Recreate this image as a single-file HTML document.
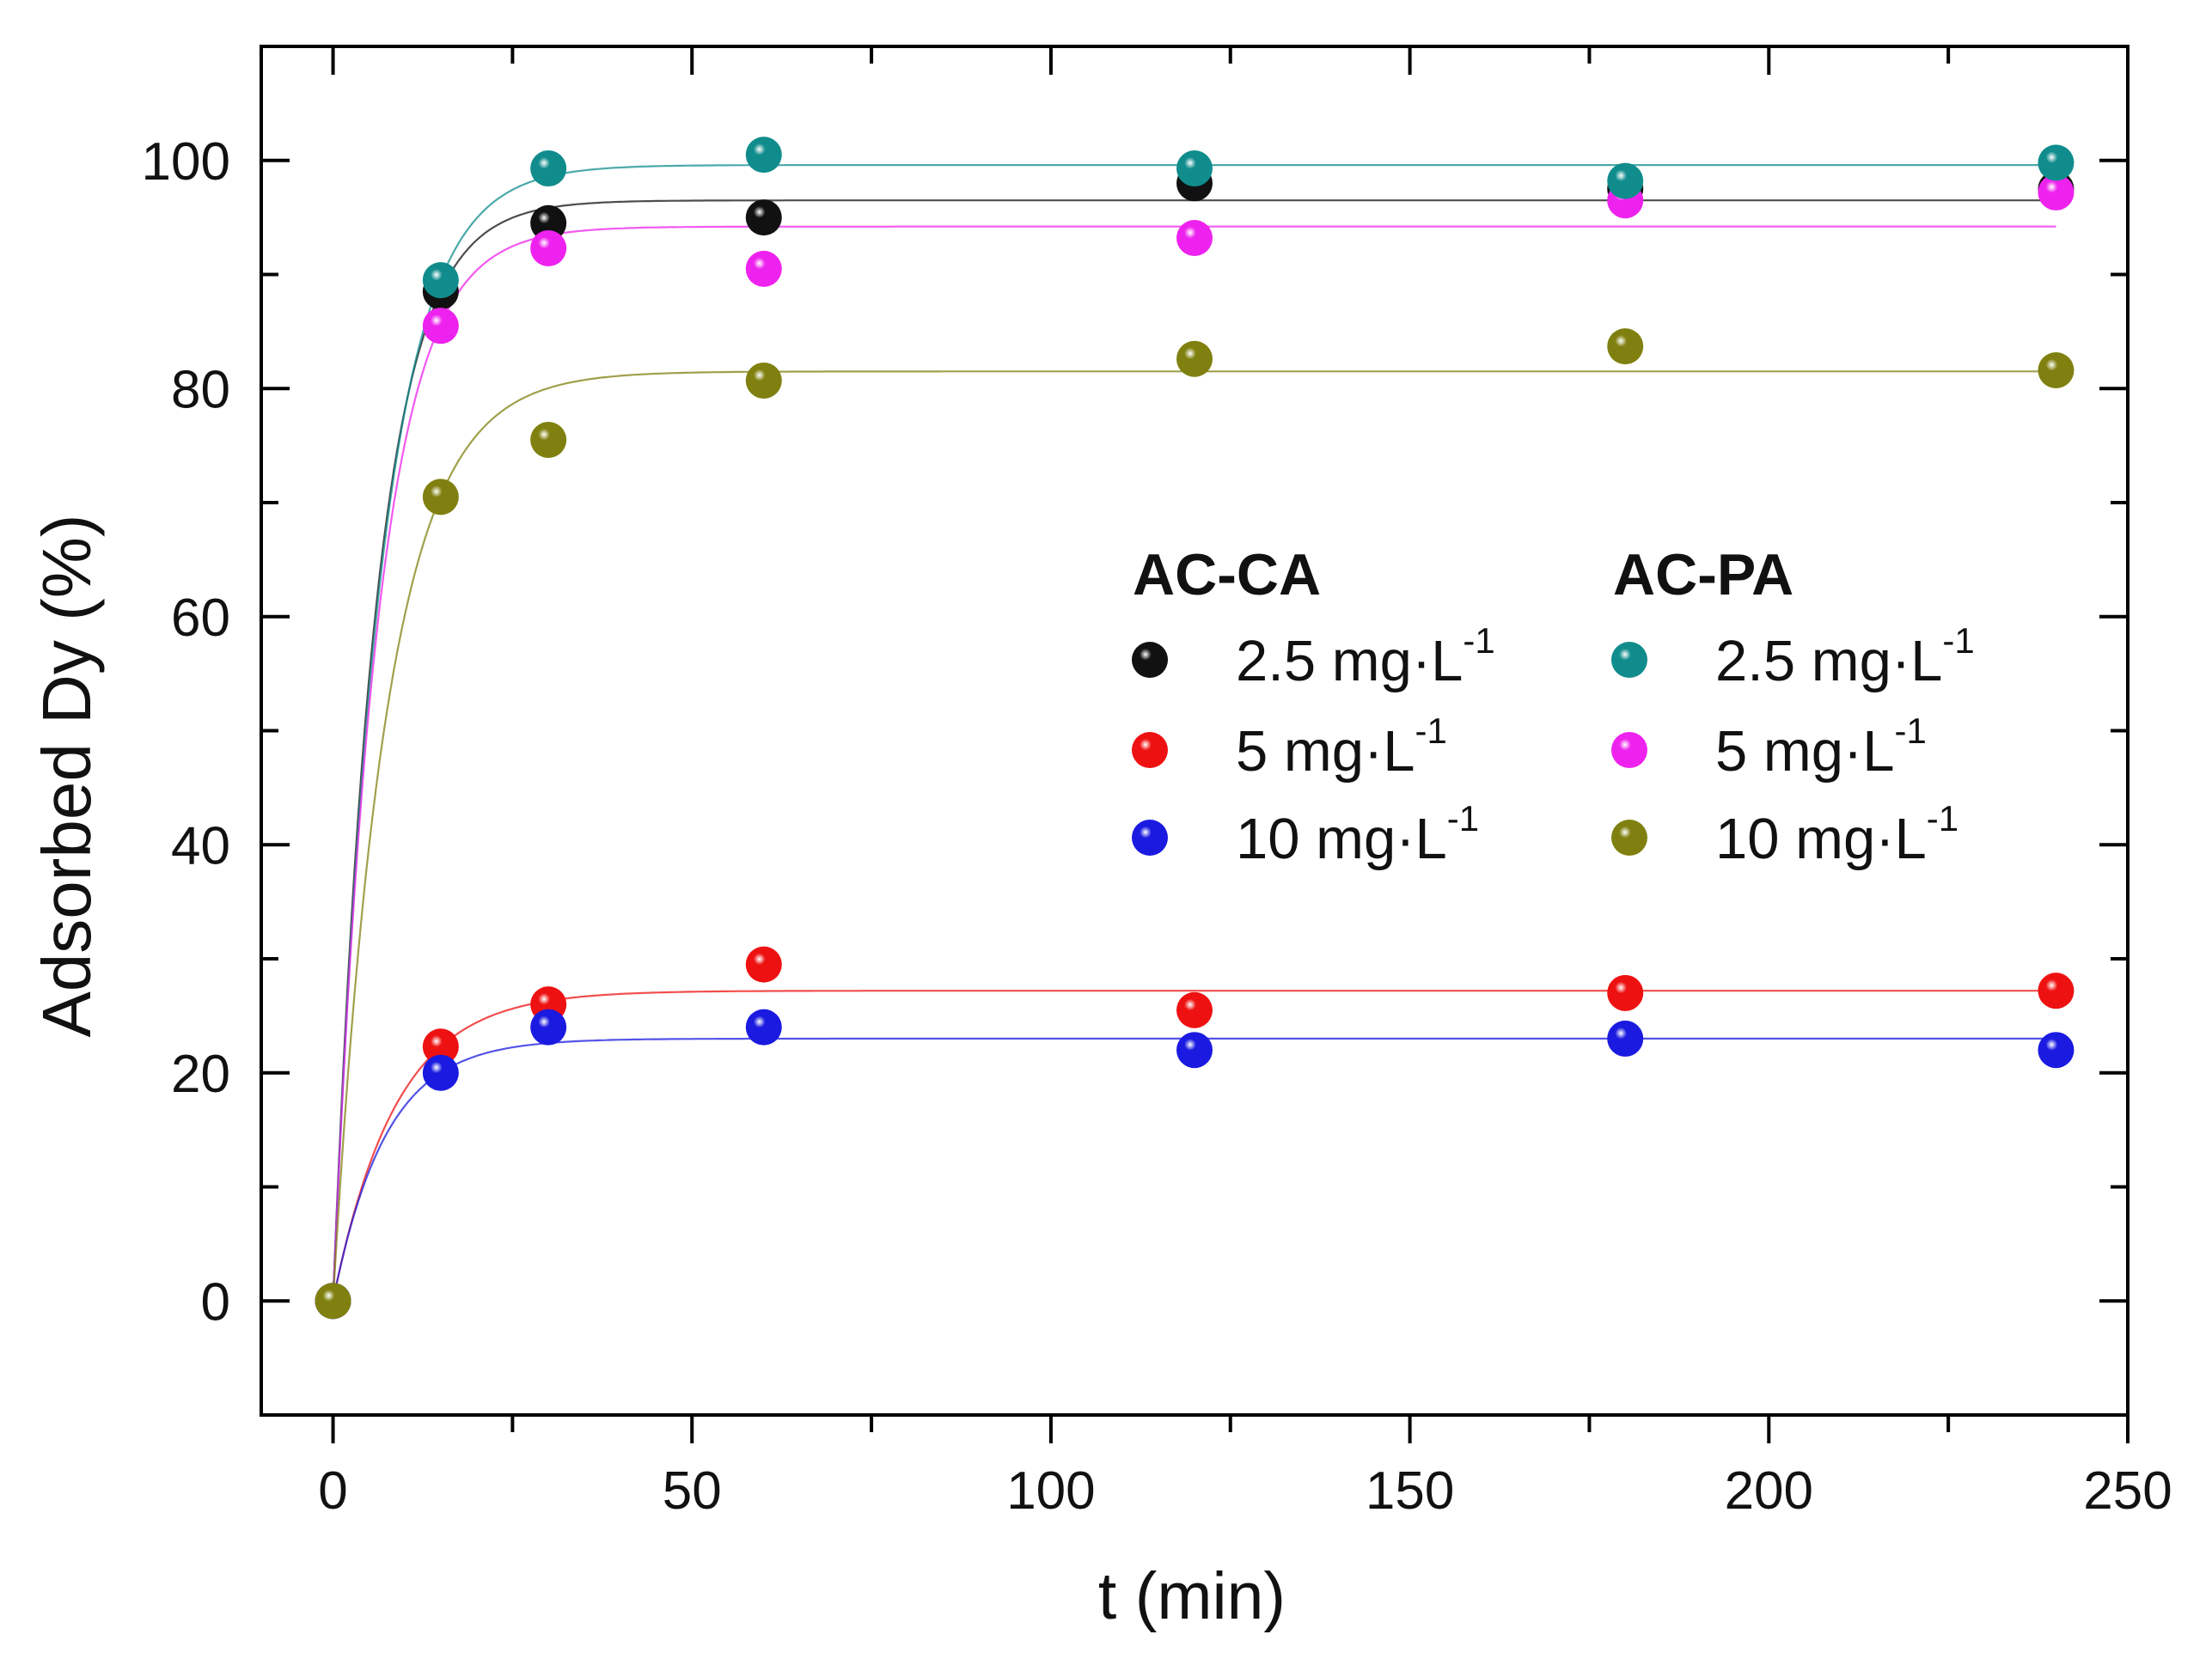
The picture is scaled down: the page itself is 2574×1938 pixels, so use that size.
<!DOCTYPE html>
<html><head><meta charset="utf-8"><style>
html,body{margin:0;padding:0;background:#fff;}
svg{display:block;font-family:"Liberation Sans",Arial,sans-serif;}
</style></head><body>
<svg id="chart" width="2574" height="1938" viewBox="0 0 2574 1938" xmlns="http://www.w3.org/2000/svg">
<defs id="defs"></defs>
<g id="plot"></g>
</svg>
<script>
const times = [0, 15, 30, 60, 120, 180, 240];
const seriesNames = ["ca-2.5", "ca-5", "ca-10", "pa-2.5", "pa-5", "pa-10"];
const seriesColors = ["#111111", "#ee1111", "#1a1ae0", "#108c8c", "#ee22ee", "#808010"];
const caBlack = [0, 88.5, 94.5, 95.0, 98.0, 97.5, 97.5];
const caRed = [0, 22.3, 26.0, 29.5, 25.5, 27.0, 27.2];
const caBlue = [0, 20.0, 24.0, 24.0, 22.0, 23.0, 22.0];
const paTeal = [0, 89.5, 99.3, 100.5, 99.3, 98.2, 99.8];
const paMagenta = [0, 85.5, 92.3, 90.5, 93.2, 96.5, 97.2];
const paOlive = [0, 70.5, 75.5, 80.7, 82.6, 83.7, 81.6];
const fitQe = [96.5, 27.2, 23.0, 99.6, 94.2, 81.5];
const fitK = [0.166, 0.114, 0.136, 0.153, 0.16, 0.134];
const xTicks = [0, 50, 100, 150, 200, 250];
const yTicks = [0, 20, 40, 60, 80, 100];
const legendLabels = ["2.5 mg·L", "5 mg·L", "10 mg·L"];

const allSeries = [caBlack, caRed, caBlue, paTeal, paMagenta, paOlive];
const L = 304, R = 2476, T = 54, B = 1647;
const xMin = -10, xMax = 250, yMin = -10, yMax = 110;
const sx = v => L + (v - xMin) / (xMax - xMin) * (R - L);
const sy = v => B - (v - yMin) / (yMax - yMin) * (B - T);
const NS = "http://www.w3.org/2000/svg";
const plot = document.getElementById("plot");
const defs = document.getElementById("defs");
function mk(tag, attrs, parent) {
  const e = document.createElementNS(NS, tag);
  for (const k in attrs) e.setAttribute(k, attrs[k]);
  (parent || plot).appendChild(e);
  return e;
}
seriesColors.forEach((c, i) => {
  const g = mk("radialGradient", {id: "g" + i, cx: "0.38", cy: "0.35", r: "0.65"}, defs);
  mk("stop", {offset: "0", "stop-color": "#ffffff"}, g);
  mk("stop", {offset: "0.25", "stop-color": c}, g);
  mk("stop", {offset: "1", "stop-color": c}, g);
});
fitQe.forEach((qe, i) => {
  let d = "";
  for (let t = 0; t <= 240; t += 0.5) {
    const v = qe * (1 - Math.exp(-fitK[i] * t));
    d += (t === 0 ? "M" : "L") + sx(t).toFixed(1) + "," + sy(v).toFixed(1);
  }
  const p = mk("path", {d: d, fill: "none", stroke: seriesColors[i], "stroke-width": 2.2, opacity: 0.75});
  
  
});
const order = [0, 1, 2, 4, 3, 5];
order.forEach(i => {
  allSeries[i].forEach((v, j) => {
    const c = mk("circle", {cx: sx(times[j]), cy: sy(v), r: 21, fill: "url(#g" + i + ")"});
    
    
  });
});
const fr = mk("rect", {x: L, y: T, width: R - L, height: B - T, fill: "none", stroke: "#000", "stroke-width": 4});


for (let v = 0; v <= 250; v += 25) {
  const major = v % 50 === 0;
  const len = major ? 33 : 20;
  mk("line", {x1: sx(v), x2: sx(v), y1: B, y2: B + len, stroke: "#000", "stroke-width": 4});
  mk("line", {x1: sx(v), x2: sx(v), y1: T, y2: T + len, stroke: "#000", "stroke-width": 4});
}
for (let v = -10; v <= 110; v += 10) {
  if (v === -10 || v === 110) continue;
  const major = v % 20 === 0;
  const len = major ? 33 : 20;
  mk("line", {x1: L, x2: L + len, y1: sy(v), y2: sy(v), stroke: "#000", "stroke-width": 4});
  mk("line", {x1: R, x2: R - len, y1: sy(v), y2: sy(v), stroke: "#000", "stroke-width": 4});
}
xTicks.forEach(v => {
  const t = mk("text", {x: sx(v), y: 1756, "font-size": 62, "text-anchor": "middle", fill: "#111"});
  t.textContent = v;
  
  
});
yTicks.forEach(v => {
  const t = mk("text", {x: 268, y: sy(v) + 22, "font-size": 62, "text-anchor": "end", fill: "#111"});
  t.textContent = v;
  
  
});
const xt = mk("text", {x: 1387, y: 1884, "font-size": 77, "text-anchor": "middle", fill: "#111"});
xt.textContent = "t (min)";


const yt = mk("text", {x: 0, y: 0, "font-size": 80, "text-anchor": "middle", fill: "#111", transform: "translate(105,903) rotate(-90)"});
yt.textContent = "Adsorbed Dy (%)";


const heads = [["AC-CA", 1318], ["AC-PA", 1877]];
heads.forEach((h, k) => {
  const t = mk("text", {x: h[1], y: 692, "font-size": 68, "font-weight": "bold", fill: "#111"});
  t.textContent = h[0];
  
  
});
const legY = [768, 873, 975];
for (let col = 0; col < 2; col++) {
  for (let r = 0; r < 3; r++) {
    const i = col * 3 + r;
    const mx = col === 0 ? 1338 : 1896;
    const c = mk("circle", {cx: mx, cy: legY[r], r: 21, fill: "url(#g" + i + ")"});
    
    
    const t = mk("text", {x: mx + 100, y: legY[r] + 24, "font-size": 67, fill: "#111"});
    t.textContent = legendLabels[r];
    const s = mk("tspan", {dy: -32, "font-size": 42}, t);
    s.textContent = "-1";
    
    
  }
}
</script>
</body></html>
